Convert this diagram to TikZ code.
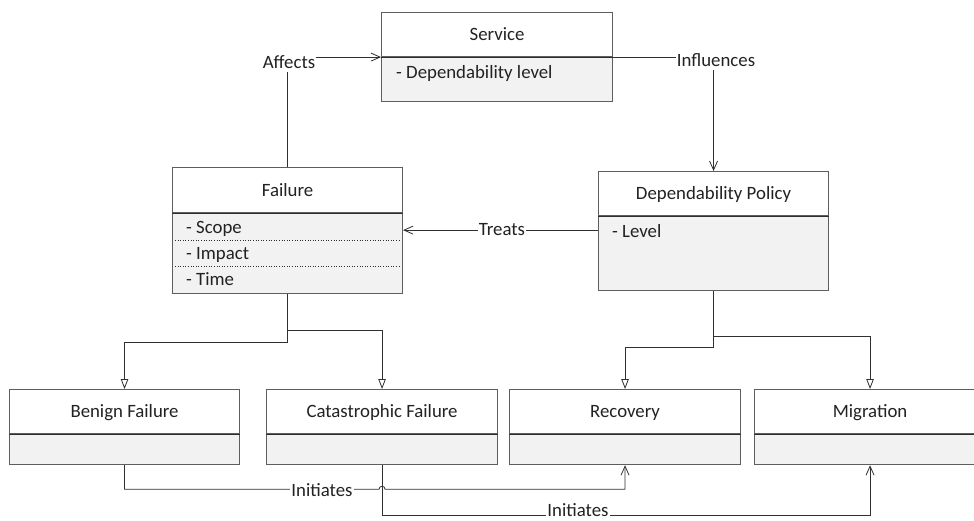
\documentclass[tikz,border=0pt]{standalone}
\usepackage{fontspec}
\setmainfont{Carlito}
\usetikzlibrary{arrows.meta}
\definecolor{ink}{HTML}{222222}
\definecolor{boxedge}{HTML}{5E5E5E}
\definecolor{divline}{HTML}{2E2E2E}
\definecolor{wire}{HTML}{303030}
\definecolor{compart}{HTML}{F2F2F2}
\begin{document}
\begin{tikzpicture}[x=1pt,y=-1pt,
  every node/.style={font=\fontsize{18.8}{22}\selectfont, text=ink},
  classtitle/.style={draw=boxedge, line width=1.1pt, fill=white, anchor=north west,
    inner sep=0pt, minimum width=230pt, minimum height=44pt,
    text height=12pt, text depth=0pt},
  classattr/.style={draw=boxedge, line width=1.1pt, fill=compart, anchor=north west,
    inner sep=0pt, minimum width=230pt, minimum height=30pt},
  attrtext/.style={anchor=base west, inner sep=0pt},
  divider/.style={draw=divline, line width=1.1pt},
  sepline/.style={draw=divline, line width=0.6pt, dotted},
  assoc/.style={draw=wire, line width=0.8pt, -{Straight Barb[length=9pt,width=8pt]}},
  gen/.style={draw=wire, line width=0.8pt, -{Triangle[open,length=10pt,width=7.5pt,fill=white]}},
  lbl/.style={fill=white, inner sep=1pt, text height=13pt, text depth=3pt, anchor=base}
]
\useasboundingbox (0,0) rectangle (974,520);

% ---- Service
\node[classtitle, minimum width=231pt] (svc) at (381,12) {Service};
\node[classattr, minimum width=231pt, minimum height=44pt] (svcA) at (svc.south west) {};
\draw[divider] (svc.south west) -- (svc.south east);
\node[attrtext] (svcT) at ([shift={(15,21.5)}]svcA.north west) {- Dependability level};

% ---- Failure
\node[classtitle, minimum height=45pt] (fail) at (172,167) {Failure};
\node[classattr, minimum height=80pt] (failA) at (fail.south west) {};
\draw[divider] (fail.south west) -- (fail.south east);
\node[attrtext] (failT1) at ([shift={(14,20.7)}]failA.north west) {- Scope};
\node[attrtext] (failT2) at ([shift={(14,46)}]failA.north west) {- Impact};
\node[attrtext] (failT3) at ([shift={(14,72)}]failA.north west) {- Time};
\draw[sepline] ([shift={(3,27.5)}]failA.north west) -- ([shift={(-3,27.5)}]failA.north east);
\draw[sepline] ([shift={(3,53)}]failA.north west) -- ([shift={(-3,53)}]failA.north east);

% ---- Dependability Policy
\node[classtitle] (dp) at (598,171) {Dependability Policy};
\node[classattr, minimum height=74pt] (dpA) at (dp.south west) {};
\draw[divider] (dp.south west) -- (dp.south east);
\node[attrtext] (dpT) at ([shift={(14,21)}]dpA.north west) {- Level};

% ---- Bottom row
\node[classtitle] (benign) at (9,389) {Benign Failure};
\node[classattr] (benignA) at (benign.south west) {};
\draw[divider] (benign.south west) -- (benign.south east);

\node[classtitle, minimum width=231pt] (cat) at (266,389) {Catastrophic Failure};
\node[classattr, minimum width=231pt] (catA) at (cat.south west) {};
\draw[divider] (cat.south west) -- (cat.south east);

\node[classtitle, minimum width=231pt] (rec) at (509,389) {Recovery};
\node[classattr, minimum width=231pt] (recA) at (rec.south west) {};
\draw[divider] (rec.south west) -- (rec.south east);

\node[classtitle, minimum width=231pt] (mig) at (754,389) {Migration};
\node[classattr, minimum width=231pt] (migA) at (mig.south west) {};
\draw[divider] (mig.south west) -- (mig.south east);

% ---- Associations
\draw[assoc] (fail.north) |- (svcA.north west);
\draw[assoc] (svcA.north east) -| (dp.north);
\coordinate (trR) at ([yshift=-14pt]dpA.north west);
\coordinate (trL) at (trR -| failA.east);
\draw[assoc] (trR) -- (trL);

% ---- Generalizations
\draw[gen] (failA.south) -- ++(0,48) -| (benign.north);
\draw[gen] ([yshift=-36pt]failA.south) -| (cat.north);
\draw[gen] (dpA.south) -- ++(0,56) -| (rec.north);
\draw[gen] ([yshift=-45pt]dpA.south) -| (mig.north);

% ---- Initiates (with a hop over the crossing wire)
\coordinate (i1) at ([yshift=-24pt]benignA.south);
\coordinate (hop) at (i1 -| catA.south);
\draw[assoc] (benignA.south) -- (i1) -- ([xshift=-3pt]hop)
  arc[start angle=180, end angle=0, radius=3pt] -- (hop -| recA.south) -- (recA.south);
\coordinate (i2) at ([yshift=-50pt]catA.south);
\draw[assoc] (catA.south) -- (i2) -| (migA.south);

% ---- Connector labels
\node[lbl] (lAff) at (289,68.3) {Affects};
\node[lbl] (lInf) at (716,66) {Influences};
\node[lbl] (lTre) at (502,235) {Treats};
\node[lbl] (lIn1) at (322,496.7) {Initiates};
\node[lbl] (lIn2) at (578,516.5) {Initiates};
\end{tikzpicture}
\end{document}
